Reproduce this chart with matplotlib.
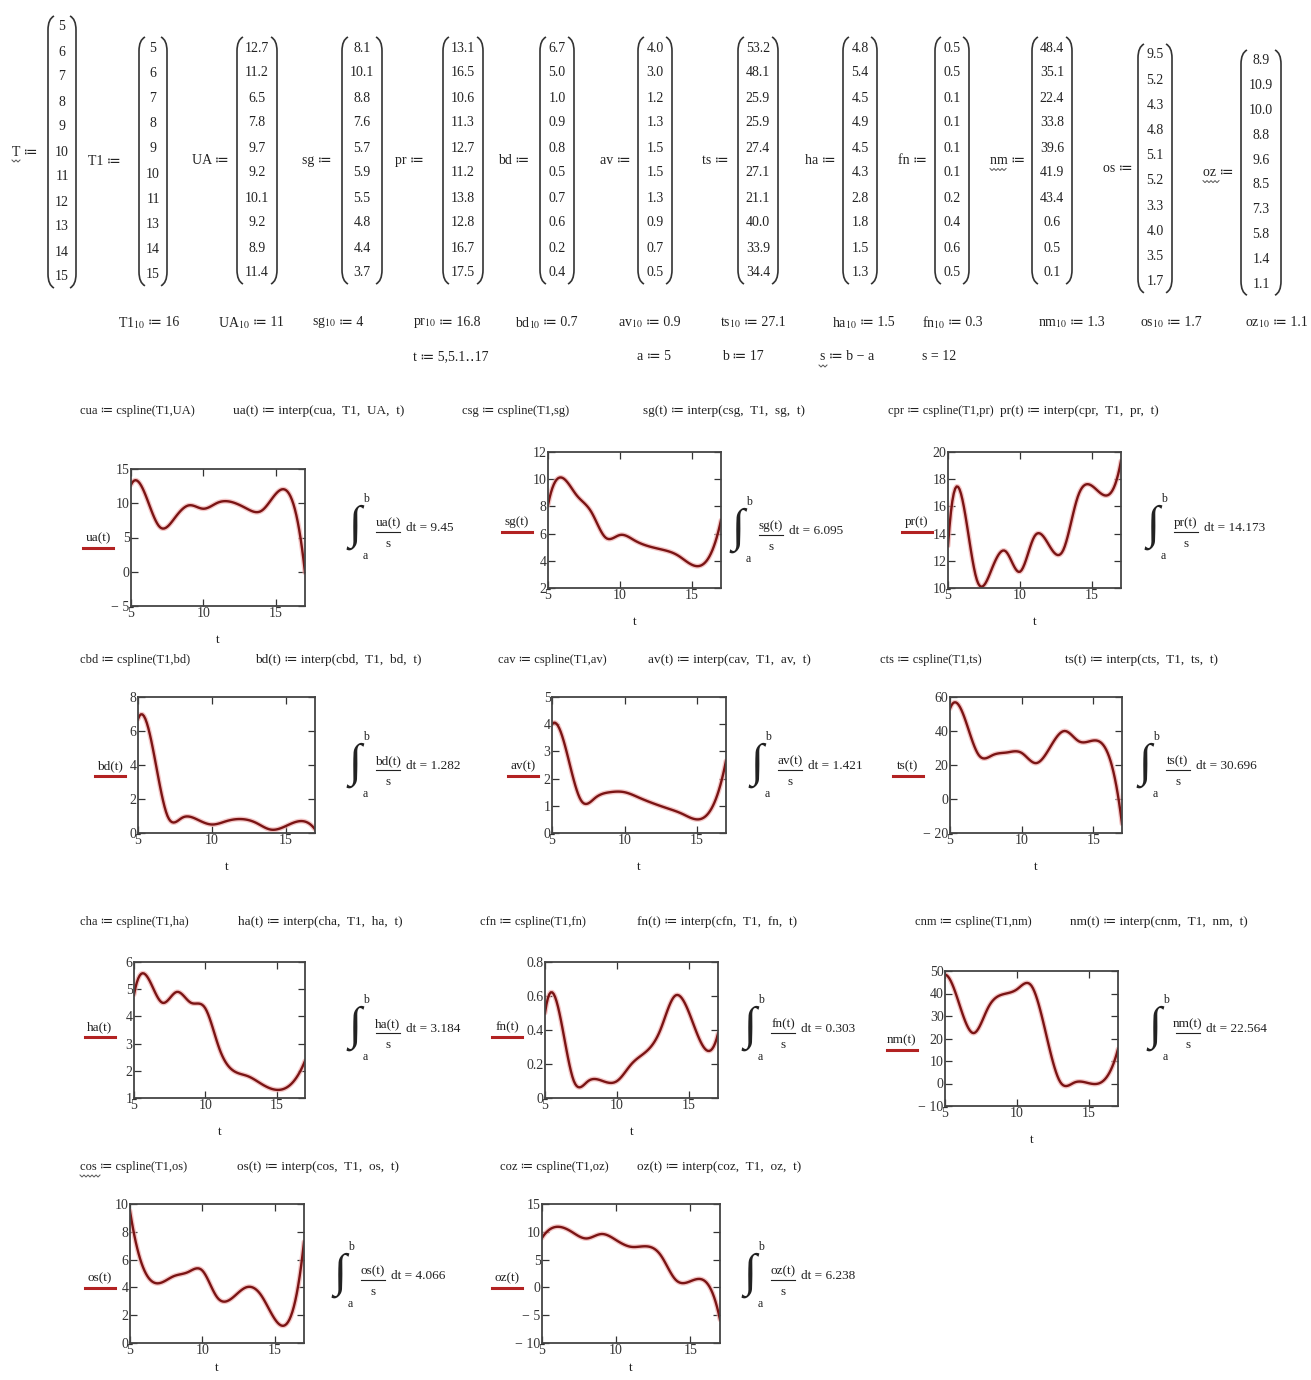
import numpy as np
import matplotlib.pyplot as plt
from matplotlib.path import Path
from matplotlib.patches import PathPatch

plt.rcParams['font.family'] = ['Liberation Serif', 'DejaVu Sans']
plt.rcParams['mathtext.fontset'] = 'stix'

W, H = 1311, 1380

# worksheet vectors
T = [5, 6, 7, 8, 9, 10, 11, 12, 13, 14, 15]
T1 = [5, 6, 7, 8, 9, 10, 11, 13, 14, 15]
UA = [12.7, 11.2, 6.5, 7.8, 9.7, 9.2, 10.1, 9.2, 8.9, 11.4]
sg = [8.1, 10.1, 8.8, 7.6, 5.7, 5.9, 5.5, 4.8, 4.4, 3.7]
pr = [13.1, 16.5, 10.6, 11.3, 12.7, 11.2, 13.8, 12.8, 16.7, 17.5]
bd = [6.7, 5.0, 1.0, 0.9, 0.8, 0.5, 0.7, 0.6, 0.2, 0.4]
av = [4.0, 3.0, 1.2, 1.3, 1.5, 1.5, 1.3, 0.9, 0.7, 0.5]
ts = [53.2, 48.1, 25.9, 25.9, 27.4, 27.1, 21.1, 40.0, 33.9, 34.4]
ha = [4.8, 5.4, 4.5, 4.9, 4.5, 4.3, 2.8, 1.8, 1.5, 1.3]
fn = [0.5, 0.5, 0.1, 0.1, 0.1, 0.1, 0.2, 0.4, 0.6, 0.5]
nm = [48.4, 35.1, 22.4, 33.8, 39.6, 41.9, 43.4, 0.6, 0.5, 0.1]
os_ = [9.5, 5.2, 4.3, 4.8, 5.1, 5.2, 3.3, 4.0, 3.5, 1.7]
oz = [8.9, 10.9, 10.0, 8.8, 9.6, 8.5, 7.3, 5.8, 1.4, 1.1]

# element 10 of each vector
T1_10, UA_10, sg_10, pr_10, bd_10, av_10 = 16, 11, 4, 16.8, 0.7, 0.9
ts_10, ha_10, fn_10, nm_10, os_10, oz_10 = 27.1, 1.5, 0.3, 1.3, 1.7, 1.1

a, b = 5, 17
t = np.arange(5, 17.0001, 0.1)

# results of the integrals
integrals = ['9.45', '6.095', '14.173', '1.282', '1.421', '30.696',
             '3.184', '0.303', '22.564', '4.066', '6.238']


def cspline(x, y):
    x = np.asarray(x, float)
    y = np.asarray(y, float)
    n = len(x)
    h = np.diff(x)
    A = np.zeros((n, n))
    r = np.zeros(n)
    A[0, :3] = [h[1], -(h[0] + h[1]), h[0]]
    A[-1, -3:] = [h[-1], -(h[-2] + h[-1]), h[-2]]
    for i in range(1, n - 1):
        A[i, i - 1:i + 2] = [h[i - 1], 2 * (h[i - 1] + h[i]), h[i]]
        r[i] = 6 * ((y[i + 1] - y[i]) / h[i] - (y[i] - y[i - 1]) / h[i - 1])
    return np.linalg.solve(A, r)


def interp(M, x, y, tt):
    x = np.asarray(x, float)
    y = np.asarray(y, float)
    i = np.clip(np.searchsorted(x, tt) - 1, 0, len(x) - 2)
    h = x[i + 1] - x[i]
    p = x[i + 1] - tt
    q = tt - x[i]
    return ((M[i] * p ** 3 + M[i + 1] * q ** 3) / (6 * h)
            + (y[i] / h - M[i] * h / 6) * p + (y[i + 1] / h - M[i + 1] * h / 6) * q)


fig = plt.figure(figsize=(W / 100, H / 100), dpi=100)
bg = fig.add_axes([0, 0, 1, 1])
bg.set_xlim(0, W)
bg.set_ylim(H, 0)
bg.axis('off')

FS = 9.5
INK = '#222222'


def txt(x, y, s, size=FS, ha='left', va='center', **kw):
    return bg.text(x, y, s, fontsize=size, ha=ha, va=va, color=INK, **kw)


def after(artist, s, size=FS, gap=3):
    # text placed right after another text
    return bg.annotate(s, xy=(1, 0.5), xycoords=artist, xytext=(gap, 0),
                       textcoords='offset points', va='center', ha='left',
                       fontsize=size, color=INK)


def paren(x, top, bot, right=False):
    d = -6 if right else 6
    verts = [(x + d, top), (x, top + 3), (x, top + 14), (x, bot - 14), (x, bot - 3), (x + d, bot)]
    codes = [Path.MOVETO, Path.CURVE3, Path.CURVE3, Path.LINETO, Path.CURVE3, Path.CURVE3]
    bg.add_patch(PathPatch(Path(verts, codes), fill=False, lw=1.2, ec='#333333'))


def wavy(x0, x1, y):
    xs = np.arange(x0, x1 + 0.1, 2.0)
    ys = y + np.where(np.arange(len(xs)) % 2, 1.0, -1.0)
    bg.plot(xs, ys, color='#555555', lw=0.7)


# ---- vectors at the top ----
vectors = [
    ('T', T, 62, 27, 25.0, 12, '%d'),
    ('T1', T1, 153, 48, 25.2, 88, '%d'),
    ('UA', UA, 257, 48, 25.0, 192, '%.1f'),
    ('sg', sg, 362, 48, 25.0, 302, '%.1f'),
    ('pr', pr, 463, 48, 25.0, 395, '%.1f'),
    ('bd', bd, 557, 48, 25.0, 498, '%.1f'),
    ('av', av, 655, 48, 25.0, 600, '%.1f'),
    ('ts', ts, 758, 48, 25.0, 702, '%.1f'),
    ('ha', ha, 860, 48, 25.0, 805, '%.1f'),
    ('fn', fn, 952, 48, 25.0, 898, '%.1f'),
    ('nm', nm, 1052, 48, 25.0, 990, '%.1f'),
    ('os', os_, 1155, 55, 25.2, 1103, '%.1f'),
    ('oz', oz, 1261, 61, 24.8, 1203, '%.1f'),
]
for name, vals, cx, y0, dy, lx, fmt in vectors:
    ys = [y0 + dy * i for i in range(len(vals))]
    for v, yy in zip(vals, ys):
        txt(cx, yy, fmt % v, size=10, ha='center')
    hw = 8 + 3 * max(len(fmt % v) for v in vals)
    paren(cx - hw, ys[0] - 11, ys[-1] + 11)
    paren(cx + hw, ys[0] - 11, ys[-1] + 11, right=True)
    ym = (ys[0] + ys[-1]) / 2
    txt(lx, ym, name + ' \u2254', size=10)
    if name in ('T', 'nm', 'oz'):
        w = 8 * len(name)
        wavy(lx, lx + w, ym + 9)

# ---- element assignments ----
row1 = [('T1', T1_10, 118), ('UA', UA_10, 218), ('sg', sg_10, 312), ('pr', pr_10, 413),
        ('bd', bd_10, 515), ('av', av_10, 618), ('ts', ts_10, 720), ('ha', ha_10, 832),
        ('fn', fn_10, 922), ('nm', nm_10, 1038), ('os', os_10, 1140), ('oz', oz_10, 1245)]
for name, v, x in row1:
    nt = txt(x, 323, name + r'$_{10}$', size=10)
    after(nt, '\u2254 %g' % v, size=10, gap=2)
txt(413, 357, 't \u2254 5,5.1\u202517', size=10)
txt(637, 357, 'a \u2254 %d' % a, size=10)
txt(722, 357, 'b \u2254 %d' % b, size=10)
txt(820, 357, 's \u2254 b \u2212 a', size=10)
wavy(819, 828, 366)
txt(922, 357, 's = %d' % (b - a), size=10)

# ---- spline plots ----
panels = [
    # name, vector, label, last, box(l, r, top, bot), ylim, ystep, header(x1, x2, y), ylabel(x, y), integral(x, y)
    ('ua', UA, 'UA', UA_10, (131, 305, 469, 606), (-5, 15), 5, (80, 233, 411), (98, 538), (350, 532)),
    ('sg', sg, 'sg', sg_10, (548, 721, 452, 588), (2, 12), 2, (462, 643, 411), (517, 522), (733, 535)),
    ('pr', pr, 'pr', pr_10, (948, 1121, 452, 588), (10, 20), 2, (888, 1000, 411), (917, 522), (1148, 532)),
    ('bd', bd, 'bd', bd_10, (138, 315, 697, 833), (0, 8), 2, (80, 255, 660), (110, 766), (350, 770)),
    ('av', av, 'av', av_10, (552, 726, 697, 833), (0, 5), 1, (498, 648, 660), (523, 766), (752, 770)),
    ('ts', ts, 'ts', ts_10, (950, 1122, 697, 833), (-20, 60), 20, (880, 1065, 660), (908, 766), (1140, 770)),
    ('ha', ha, 'ha', ha_10, (134, 305, 962, 1098), (1, 6), 1, (80, 238, 922), (100, 1027), (350, 1033)),
    ('fn', fn, 'fn', fn_10, (545, 718, 962, 1098), (0, 0.8), 0.2, (480, 637, 922), (507, 1027), (745, 1033)),
    ('nm', nm, 'nm', nm_10, (945, 1118, 971, 1106), (-10, 50), 10, (915, 1070, 922), (902, 1040), (1150, 1033)),
    ('os', os_, 'os', os_10, (130, 304, 1204, 1343), (0, 10), 2, (80, 237, 1167), (100, 1278), (335, 1280)),
    ('oz', oz, 'oz', oz_10, (542, 720, 1204, 1343), (-10, 15), 5, (500, 637, 1167), (507, 1278), (745, 1280)),
]

for k, (n, vec, vname, last, box, ylim, ystep, hdr, ylab, integ) in enumerate(panels):
    l, r, top, bot = box
    x = list(T1) + [T1_10]
    y = list(vec) + [last]
    M = cspline(x, y)
    yy = interp(M, x, y, t)

    ax = fig.add_axes([l / W, 1 - bot / H, (r - l) / W, (bot - top) / H])
    ax.plot(t, yy, color='#f0b0b0', lw=3.6, alpha=0.7, solid_capstyle='round')
    ax.plot(t, yy, color='#7a1414', lw=1.7)
    ax.set_xlim(5, 17)
    ax.set_ylim(*ylim)
    ax.set_xticks([5, 10, 15])
    ax.set_yticks(np.arange(ylim[0], ylim[1] + ystep / 2, ystep))
    ax.yaxis.set_major_formatter(
        plt.FuncFormatter(lambda v, p: ('%g' % round(v, 2)).replace('-', '\u2212 ')))
    ax.tick_params(direction='in', length=5, width=0.9, top=True, right=True,
                   labelsize=10, pad=1, colors='#333333')
    for sp in ax.spines.values():
        sp.set_linewidth(1.3)
        sp.set_color('#444444')
    ax.patch.set_alpha(0)

    # x label
    txt((l + r) / 2, min(bot + 34, 1368), 't', ha='center')

    # headers
    c = 'c' + n
    txt(hdr[0], hdr[2], '%s \u2254 cspline(T1,%s)' % (c, vname), size=9)
    txt(hdr[1], hdr[2], '%s(t) \u2254 interp(%s,  T1,  %s,  t)' % (n, c, vname), size=9.5)
    if n == 'os':
        wavy(hdr[0], hdr[0] + 20, hdr[2] + 9)

    # trace label with red underline
    txt(ylab[0], ylab[1], '%s(t)' % n, ha='center')
    bg.plot([ylab[0] - 15, ylab[0] + 15], [ylab[1] + 10, ylab[1] + 10], color='#b22222', lw=2.2)

    # integral
    xi, yb = integ
    txt(xi - 2, yb - 5, '\u222b', size=34)
    txt(xi + 13, yb - 33, 'b', size=8.5)
    txt(xi + 13, yb + 24, 'a', size=8.5)
    txt(xi + 38, yb - 9, '%s(t)' % n, ha='center')
    bg.plot([xi + 26, xi + 50], [yb, yb], color=INK, lw=0.8)
    txt(xi + 38, yb + 12, 's', ha='center')
    txt(xi + 56, yb - 4, 'dt = ' + integrals[k])

fig.savefig('out.png', dpi=100)
